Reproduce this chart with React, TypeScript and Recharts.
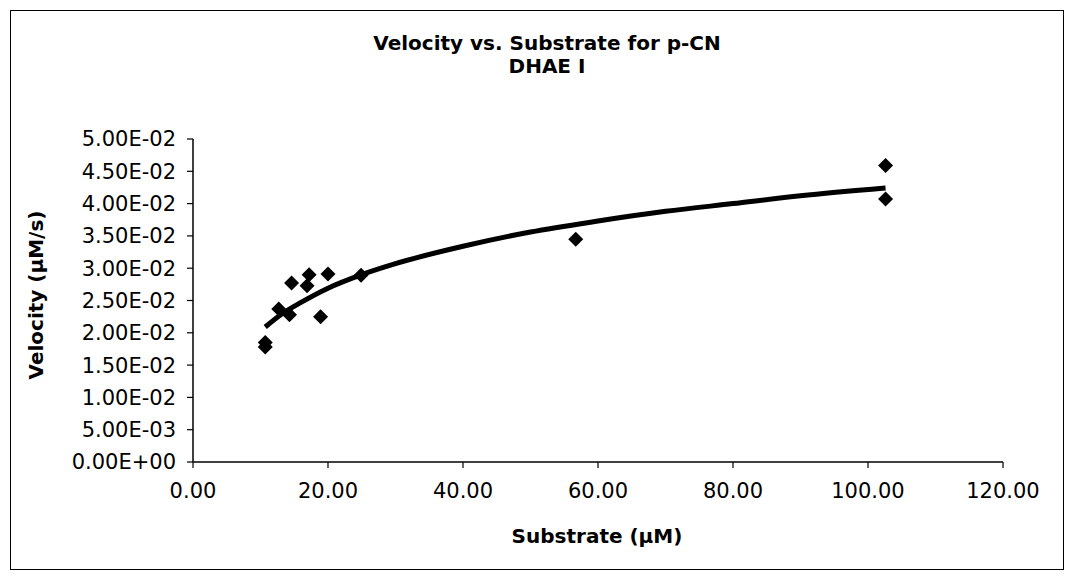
import React from 'react';
import { ScatterChart, Scatter, XAxis, YAxis } from 'recharts';

// Measured data (substrate in µM, velocity in µM/s)
const substrate = [10.7, 10.7, 12.7, 14.3, 14.6, 16.9, 17.2, 18.9, 20.0, 24.9, 56.7, 102.6, 102.6];
const velocity = [0.0185, 0.0178, 0.0237, 0.0228, 0.0277, 0.0273, 0.029, 0.0225, 0.0291, 0.0289, 0.0345, 0.0459, 0.0407];

// Trend line
const trendSubstrate = [10.7, 13, 16, 20, 25, 30, 40, 50, 60, 70, 80, 90, 102.6];
const trendVelocity = [0.0209, 0.0228, 0.0247, 0.0269, 0.029, 0.0307, 0.0334, 0.0356, 0.0373, 0.0388, 0.04, 0.0412, 0.0424];

const xTicks = [0, 20, 40, 60, 80, 100, 120];
const yTicks = [0, 0.005, 0.01, 0.015, 0.02, 0.025, 0.03, 0.035, 0.04, 0.045, 0.05];

const titleLine1 = 'Velocity vs. Substrate for p-CN';
const titleLine2 = 'DHAE I';
const xTitle = 'Substrate (\u00b5M)';
const yTitle = 'Velocity (\u00b5M/s)';

const points = substrate.map((x, i) => ({ x, y: velocity[i] }));
const trend = trendSubstrate.map((x, i) => ({ x, y: trendVelocity[i] }));

const FONT = '"DejaVu Sans", Verdana, sans-serif';

const fmtY = (v: number) => {
  const [m, e] = v.toExponential(2).split('e');
  const sign = e[0] === '-' ? '-' : '+';
  const digits = e.replace('-', '').replace('+', '').padStart(2, '0');
  return `${m}E${sign}${digits}`;
};
const fmtX = (v: number) => v.toFixed(2);

const Diamond = (props: any) => {
  const { cx, cy } = props;
  if (cx == null || cy == null) return <g />;
  const r = 7.5;
  return (
    <polygon
      points={`${cx},${cy - r} ${cx + r},${cy} ${cx},${cy + r} ${cx - r},${cy}`}
      fill="#000"
    />
  );
};

const NoShape = () => <g />;

const tickStyle = { fill: '#000', fontSize: 21, fontFamily: FONT };

export default function App() {
  return (
    <div
      style={{
        position: 'absolute',
        left: 0,
        top: 0,
        width: 1071,
        height: 580,
        background: '#fff',
        fontFamily: FONT,
      }}
    >
      <div
        style={{
          position: 'absolute',
          left: 10,
          top: 10,
          width: 1052,
          height: 558,
          border: '1.5px solid #000',
        }}
      />
      <div
        style={{
          position: 'absolute',
          left: 247,
          width: 600,
          top: 32,
          textAlign: 'center',
          fontWeight: 'bold',
          fontSize: 20,
          lineHeight: '23px',
          color: '#000',
        }}
      >
        <div>{titleLine1}</div>
        <div>{titleLine2}</div>
      </div>
      <div
        style={{
          position: 'absolute',
          left: 36 - 150,
          top: 295 - 12,
          width: 300,
          height: 24,
          lineHeight: '24px',
          textAlign: 'center',
          fontWeight: 'bold',
          fontSize: 20,
          transform: 'rotate(-90deg)',
          color: '#000',
        }}
      >
        {yTitle}
      </div>
      <div
        style={{
          position: 'absolute',
          left: 597 - 150,
          top: 536 - 12,
          width: 300,
          height: 24,
          lineHeight: '24px',
          textAlign: 'center',
          fontWeight: 'bold',
          fontSize: 20,
          color: '#000',
        }}
      >
        {xTitle}
      </div>
      <div style={{ position: 'absolute', left: 0, top: 0, fontSize: 21 }}>
        <ScatterChart
          width={1071}
          height={580}
          margin={{ top: 139, right: 68, bottom: 48, left: 0 }}
          style={{ fontFamily: FONT, fontSize: 21 }}
        >
          <XAxis
            type="number"
            dataKey="x"
            domain={[0, 120]}
            ticks={xTicks}
            tickFormatter={fmtX}
            height={70}
            tickMargin={15}
            tickSize={6}
            axisLine={{ stroke: '#000', strokeWidth: 1.5 }}
            tickLine={{ stroke: '#000', strokeWidth: 1.2 }}
            tick={tickStyle}
            fontSize={21}
            allowDataOverflow
          />
          <YAxis
            type="number"
            dataKey="y"
            domain={[0, 0.05]}
            ticks={yTicks}
            tickFormatter={fmtY}
            width={193}
            tickMargin={11}
            tickSize={6}
            axisLine={{ stroke: '#000', strokeWidth: 1.5 }}
            tickLine={{ stroke: '#000', strokeWidth: 1.2 }}
            tick={tickStyle}
            fontSize={21}
            allowDataOverflow
          />
          <Scatter
            data={trend}
            line={{ stroke: '#000', strokeWidth: 5 }}
            lineJointType="monotoneX"
            shape={NoShape}
            isAnimationActive={false}
          />
          <Scatter data={points} shape={Diamond} fill="#000" isAnimationActive={false} />
        </ScatterChart>
      </div>
    </div>
  );
}
